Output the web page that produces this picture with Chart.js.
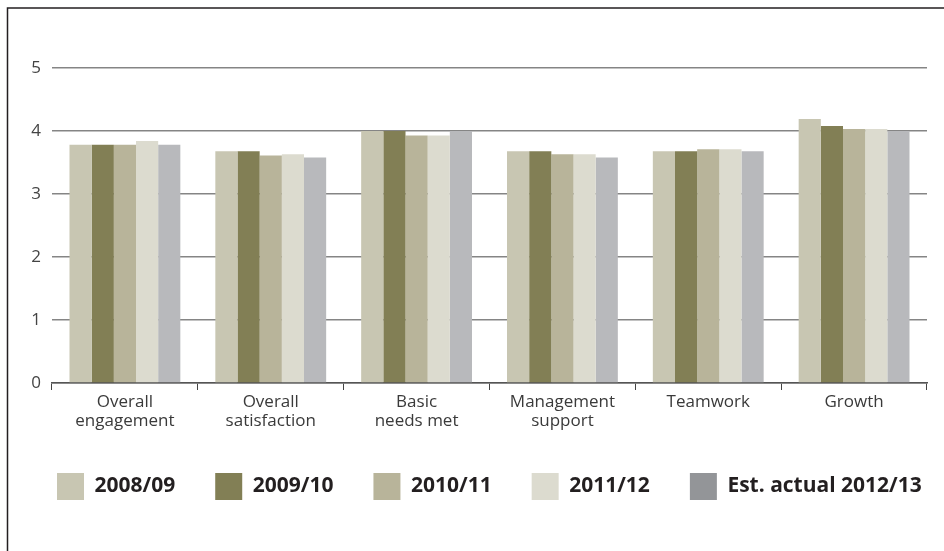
<!DOCTYPE html>
<html>
<head>
<meta charset="utf-8">
<script src="https://cdn.jsdelivr.net/npm/chart.js@4/dist/chart.umd.min.js"></script>
<style>
  html, body { margin: 0; padding: 0; background: #fff; }
  #chart { display: block; }
</style>
</head>
<body>
<canvas id="chart" width="944" height="551"></canvas>
<script>
const categories = [
  ['Overall', 'engagement'],
  ['Overall', 'satisfaction'],
  ['Basic', 'needs met'],
  ['Management', 'support'],
  ['Teamwork'],
  ['Growth']
];
const years = ['2008/09', '2009/10', '2010/11', '2011/12', 'Est. actual 2012/13'];

const y0809 = [3.78, 3.68, 4.0, 3.68, 3.68, 4.19];
const y0910 = [3.78, 3.68, 4.0, 3.68, 3.68, 4.08];
const y1011 = [3.78, 3.61, 3.93, 3.63, 3.71, 4.03];
const y1112 = [3.84, 3.63, 3.93, 3.63, 3.71, 4.03];
const yEst = [3.78, 3.58, 4.0, 3.58, 3.68, 4.0];
const seriesValues = [y0809, y0910, y1011, y1112, yEst];

const yTicks = [0, 1, 2, 3, 4, 5];

const barColors = ['#c8c6b2', '#827f55', '#b8b49a', '#dcdbcf', '#b8b9bc'];
// legend swatch for the estimate is darker than its bars
const swatchColors = ['#c8c6b2', '#827f55', '#b8b49a', '#dcdbcf', '#939598'];

// top and left rule round the figure
const frameLines = {
  id: 'frameLines',
  beforeDraw(chart) {
    const ctx = chart.ctx;
    ctx.save();
    ctx.strokeStyle = '#231f20';
    ctx.lineWidth = 1.5;
    ctx.beginPath();
    ctx.moveTo(7.5, chart.height);
    ctx.lineTo(7.5, 8);
    ctx.lineTo(chart.width, 8);
    ctx.stroke();
    ctx.restore();
  }
};

// keep the legend on one row: give it more room when it lays out and draws its items
const legendRoom = {
  id: 'legendRoom',
  beforeLayout(chart) {
    const lg = chart.legend;
    if (lg && !lg._roomy) {
      const upd = lg.update;
      lg.update = function (w, h, m) { return upd.call(this, w + 120, h, m); };
      lg._roomy = true;
    }
  },
  afterLayout(chart) {
    if (chart.legend) chart.legend.right = chart.width + 120;
  }
};

const datasets = years.map((yr, i) => ({
  label: yr,
  data: seriesValues[i],
  backgroundColor: barColors[i],
  borderWidth: 0,
  categoryPercentage: 0.76,
  barPercentage: 1.0
}));

new Chart(document.getElementById('chart'), {
  type: 'bar',
  data: { labels: categories, datasets: datasets },
  plugins: [frameLines, legendRoom],
  options: {
    responsive: false,
    animation: false,
    layout: { padding: { left: 17, right: 17, top: 68, bottom: 41 } },
    plugins: {
      tooltip: { enabled: false },
      legend: {
        position: 'bottom',
        align: 'start',
        labels: {
          boxWidth: 27,
          boxHeight: 27,
          padding: 40,
          color: '#231f20',
          font: { family: 'Open Sans', size: 21, weight: 'bold' },
          generateLabels(chart) {
            const items = Chart.defaults.plugins.legend.labels.generateLabels(chart);
            items.forEach((it, i) => {
              it.fillStyle = swatchColors[i];
              it.strokeStyle = swatchColors[i];
              it.lineWidth = 0;
            });
            return items;
          }
        }
      }
    },
    scales: {
      x: {
        afterFit(scale) { scale.height = 50; },
        grid: {
          offset: true,
          drawOnChartArea: false,
          drawTicks: true,
          tickLength: 7,
          color: '#444',
          lineWidth: 1
        },
        border: { display: true, color: '#555', width: 1.5 },
        ticks: {
          padding: 3,
          color: '#3a3a3a',
          maxRotation: 0,
          autoSkip: false,
          font: { family: 'Open Sans', size: 17, lineHeight: 1.12 }
        }
      },
      y: {
        min: 0,
        max: 5,
        afterFit(scale) { scale.width = 35; },
        afterBuildTicks(scale) { scale.ticks = yTicks.map(v => ({ value: v })); },
        grid: { color: '#858585', lineWidth: 1.5, drawTicks: false },
        border: { display: false },
        ticks: {
          padding: 11,
          color: '#444',
          font: { family: 'Open Sans', size: 17 }
        }
      }
    }
  }
});
</script>
</body>
</html>
